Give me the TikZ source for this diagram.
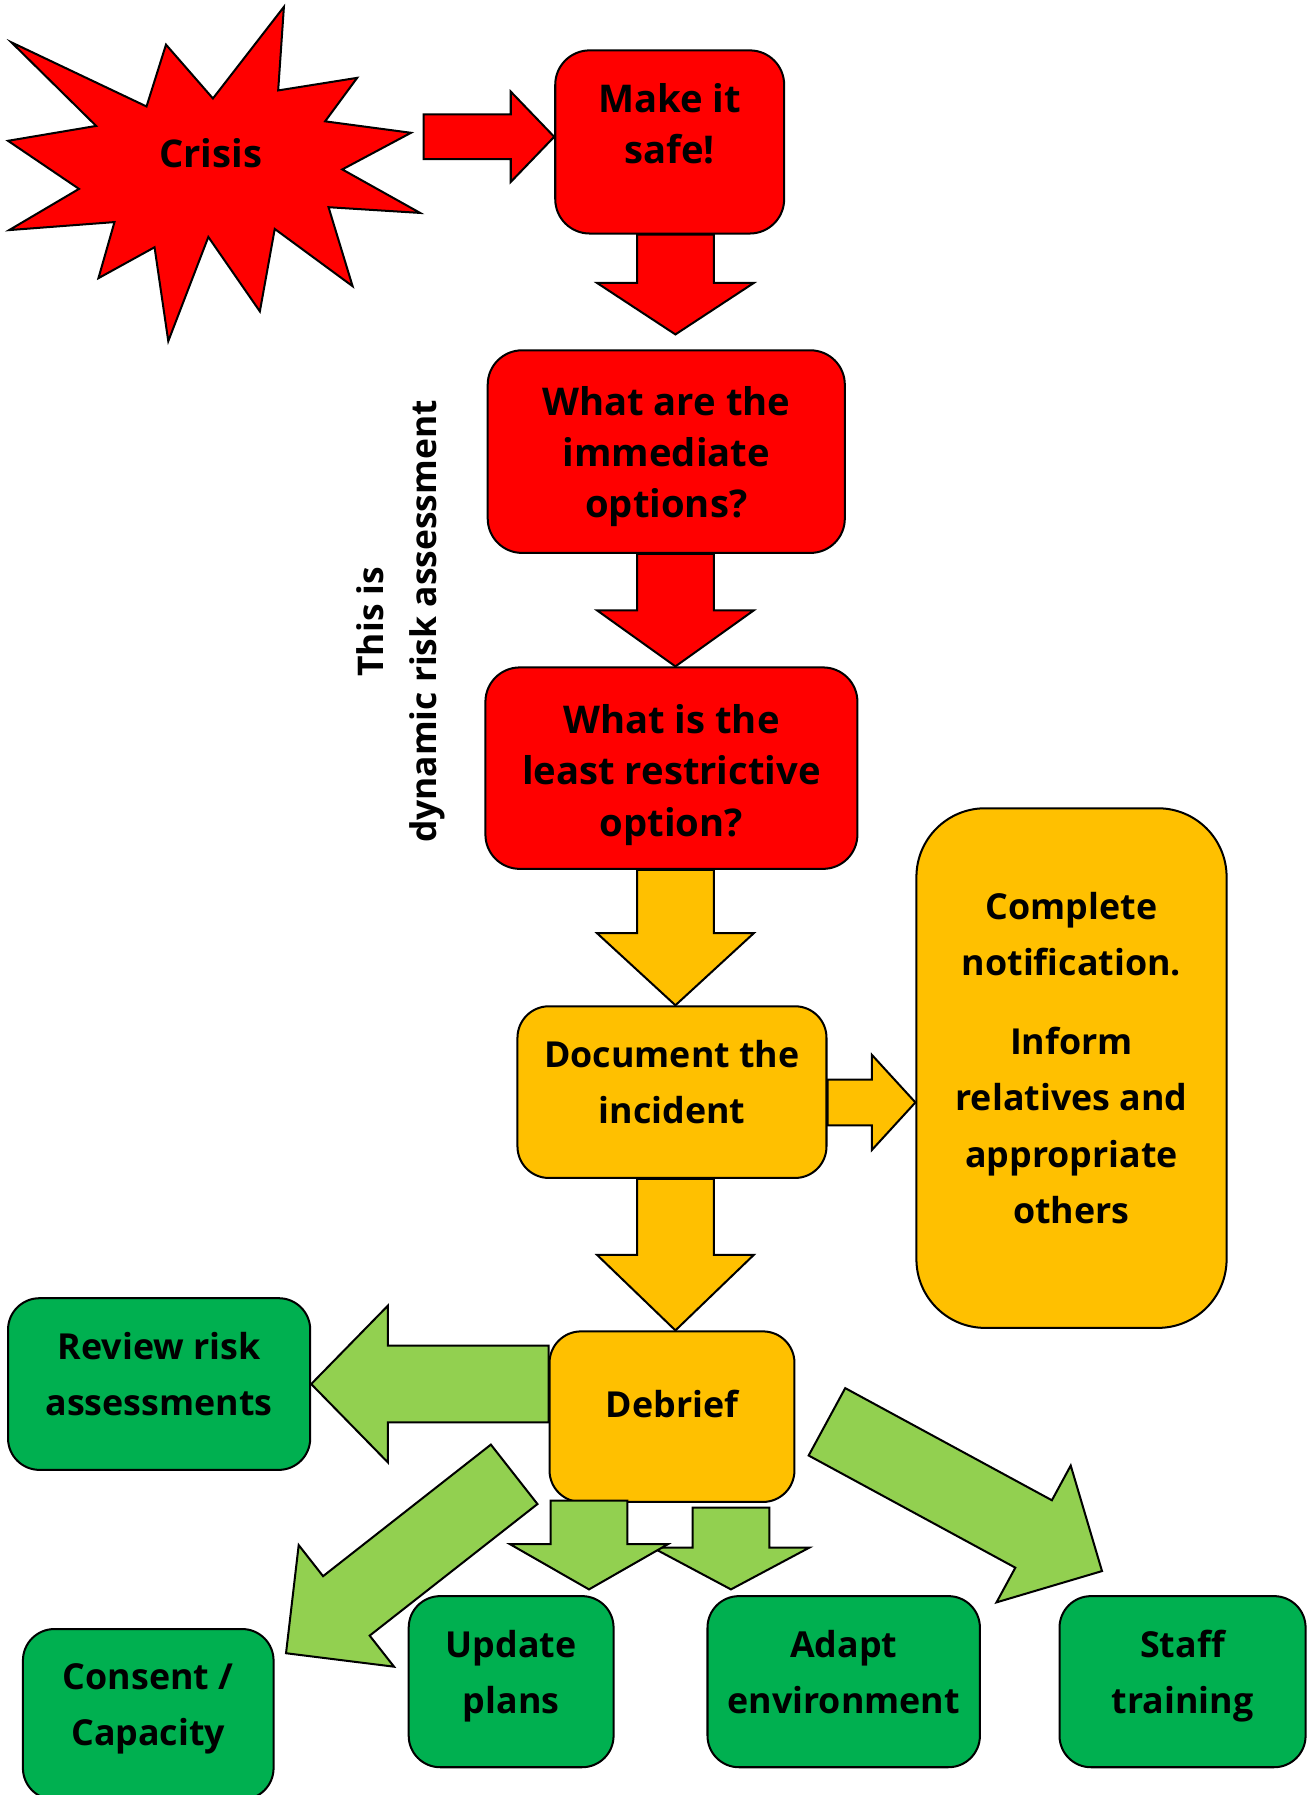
\documentclass[tikz,border=0pt]{standalone}
\usepackage{fontspec}
\setmainfont{Open Sans}
\usetikzlibrary{calc}

\definecolor{alarmred}{HTML}{FF0000}
\definecolor{amber}{HTML}{FFC000}
\definecolor{leafgreen}{HTML}{00B050}
\definecolor{limegreen}{HTML}{92D050}

% block arrow: [style]{from}{tip}{half shaft}{half head}{head length}
\newcommand{\blockarrow}[6][]{%
  \path ($(#3)!#6!(#2)$) coordinate (headbase);
  \draw[#1] ($(#2)!#4!90:(#3)$) -- ($(headbase)!#4!90:(#3)$)
    -- ($(headbase)!#5!90:(#3)$) -- (#3)
    -- ($(headbase)!#5!-90:(#3)$) -- ($(headbase)!#4!-90:(#3)$)
    -- ($(#2)!#4!-90:(#3)$) -- cycle;
}
% centred lines, raised by half of #1 inside their box
\newcommand{\boxlines}[2]{\raisebox{0pt}[\height][\dimexpr\depth+#1\relax]{\begin{tabular}{@{}c@{}}#2\end{tabular}}}

\begin{document}
\begin{tikzpicture}[
    x = 0.02cm, % one unit per pixel of the sketch
    y = -0.02cm, % rows run downwards
    line width = 1pt, % outline
    line join = miter
  ]

  \tikzstyle{box}=[
  draw = black,
  inner sep = 2pt,
  rounded corners = 0.55cm,
  font = \bfseries\fontsize{17.8}{28}\selectfont
  ]
  \tikzstyle{redbox}=[box, fill = alarmred, rounded corners = 0.6cm,
  font = \bfseries\fontsize{19}{25.6}\selectfont]
  \tikzstyle{amberbox}=[box, fill = amber]
  \tikzstyle{greenbox}=[box, fill = leafgreen]
  \tikzstyle{redarrow}=[draw = black, fill = alarmred]
  \tikzstyle{amberarrow}=[draw = black, fill = amber]
  \tikzstyle{limearrow}=[draw = black, fill = limegreen]

  \useasboundingbox (0,0) rectangle (1143,1568);

  % the burst
  \draw[fill = alarmred] (248,6) -- (243,79) -- (312,68) -- (284,106)
  -- (359,116) -- (299,148) -- (367,186) -- (287,181) -- (308,250)
  -- (240,200) -- (227,272) -- (182,207) -- (147,298) -- (135,216)
  -- (86,243) -- (100,194) -- (8,201) -- (69,165) -- (7,123) -- (84,110)
  -- (10,37) -- (128,93) -- (145,39) -- (186,86) -- cycle;
  \node[font = \bfseries\fontsize{19}{26}\selectfont] (crisis) at (184,134) {Crisis};

  \node[redbox, minimum width = 4cm, minimum height = 3.2cm] (safe) at (585,124) {\boxlines{0.5cm}{Make it\\safe!}};
  \node[redbox, minimum width = 6.24cm, minimum height = 3.54cm] (options) at (582,394.5) {\boxlines{-0.16cm}{What are the\\immediate\\options?}};
  \node[redbox, minimum width = 6.5cm, minimum height = 3.52cm] (least) at (586.5,671) {\boxlines{-0.22cm}{What is the\\least restrictive\\option?}};
  \node[font = \bfseries\fontsize{17.6}{26.7}\selectfont, rotate = 90, align = center] (note) at (350,543) {This is\\dynamic risk assessment};

  \node[amberbox, minimum width = 5.4cm, minimum height = 3cm] (document) at (587,954) {\boxlines{0.28cm}{Document the\\incident}};
  \node[amberbox, rounded corners = 1.2cm, minimum width = 5.42cm, minimum height = 9.08cm] (notify) at (936,933)
  {\boxlines{0.28cm}{Complete\\notification.\\[0.4cm]Inform\\relatives and\\appropriate\\others}};
  \node[amberbox, minimum width = 4.28cm, minimum height = 2.98cm] (debrief) at (587,1237.5) {\boxlines{0.38cm}{Debrief}};

  \node[greenbox, minimum width = 5.28cm, minimum height = 3cm] (review) at (139,1209) {\boxlines{0.28cm}{Review risk\\assessments}};
  \node[greenbox, minimum width = 4.38cm, minimum height = 2.98cm] (consent) at (129.5,1497.5) {\boxlines{0.28cm}{Consent /\\Capacity}};
  \node[greenbox, minimum width = 3.58cm, minimum height = 2.99cm] (update) at (446.5,1469) {\boxlines{0.26cm}{Update\\plans}};
  \node[greenbox, minimum width = 4.76cm, minimum height = 2.99cm] (adapt) at (737,1469) {\boxlines{0.26cm}{Adapt\\environment}};
  \node[greenbox, minimum width = 4.3cm, minimum height = 2.99cm] (staff) at (1033,1469) {\boxlines{0.26cm}{Staff\\training}};

  % arrows
  \coordinate (col) at (590,0);
  \coordinate (crisisout) at (370,119.5);
  \blockarrow[redarrow]{crisisout}{safe.west |- crisisout}{0.39cm}{0.79cm}{0.76cm}
  \coordinate (d1tip) at ($(options.north -| col)+(0,-13)$);
  \blockarrow[redarrow]{safe.south -| col}{d1tip}{0.67cm}{1.37cm}{0.9cm}
  \blockarrow[redarrow]{options.south -| col}{least.north -| col}{0.67cm}{1.37cm}{0.98cm}
  \blockarrow[amberarrow]{least.south -| col}{document.north -| col}{0.67cm}{1.37cm}{1.26cm}
  \blockarrow[amberarrow]{document.south -| col}{debrief.north -| col}{0.67cm}{1.37cm}{1.32cm}
  \coordinate (docout) at ($(document.east)+(0,9)$);
  \blockarrow[amberarrow]{docout}{notify.west |- docout}{0.4cm}{0.83cm}{0.76cm}

  \blockarrow[limearrow]{debrief.west |- review.east}{review.east}{0.67cm}{1.37cm}{1.34cm}
  \coordinate (dl) at ($(debrief.south west)+(-30,-25)$);
  \coordinate (dltip) at ($(consent.north east)+(10,22)$);
  \blockarrow[limearrow]{dl}{dltip}{0.66cm}{1.35cm}{1.34cm}
  \coordinate (dr) at ($(debrief.east)+(27.5,4.5)$);
  \coordinate (drtip) at ($(staff.north west)+(38,-21)$);
  \blockarrow[limearrow]{dr}{drtip}{0.67cm}{1.36cm}{1.36cm}
  \coordinate (da) at ($(debrief.south)+(51.5,4)$);
  \coordinate (datip) at ($(da |- adapt.north)+(0,-5)$);
  \blockarrow[limearrow]{da}{datip}{0.67cm}{1.37cm}{0.73cm}
  \coordinate (du) at ($(debrief.south)+(-72.5,-2)$);
  \coordinate (dutip) at ($(du |- update.north)+(0,-5)$);
  \blockarrow[limearrow]{du}{dutip}{0.67cm}{1.38cm}{0.79cm}
\end{tikzpicture}
\end{document}
